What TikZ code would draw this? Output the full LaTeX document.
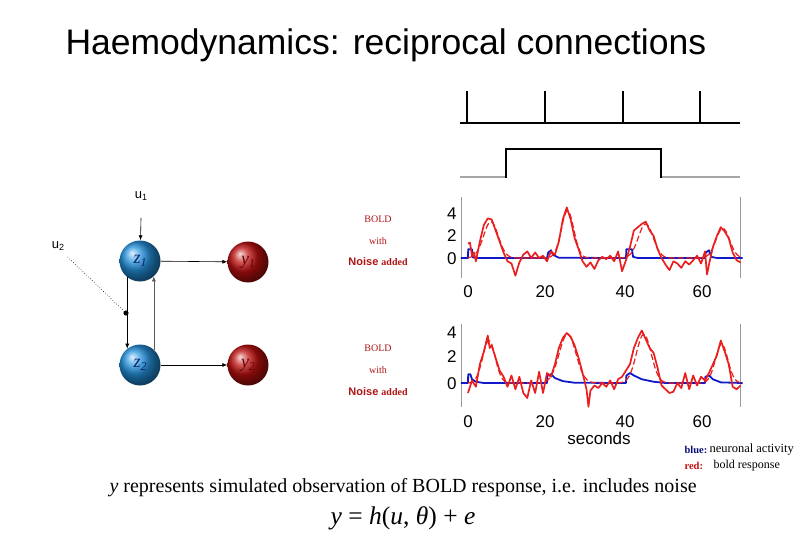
\documentclass[tikz,border=0pt]{standalone}
\usepackage{fontspec}
\setmainfont{Liberation Serif}
\setsansfont{Liberation Sans}
\usetikzlibrary{arrows.meta}
\definecolor{boldred}{RGB}{175,20,20}
\definecolor{zblue}{RGB}{35,145,220}
\definecolor{yred}{RGB}{190,15,15}
\definecolor{ztext}{RGB}{15,35,110}
\definecolor{ytext}{RGB}{95,5,5}
\definecolor{curvered}{RGB}{235,30,30}
\definecolor{curveblue}{RGB}{15,25,200}
\begin{document}
\begin{tikzpicture}[x=1pt,y=-1pt,
  zball/.style={circle,minimum size=41pt,inner sep=0pt,shading=ball,ball color=zblue,text=ztext,font=\fontsize{18}{18}\selectfont\itshape},
  yball/.style={circle,minimum size=41pt,inner sep=0pt,shading=ball,ball color=yred,text=ytext,font=\fontsize{18}{18}\selectfont\itshape},
  conn/.style={-{Latex[length=5pt,width=4pt]},line width=0.6pt},
  tick/.style={font=\sffamily\fontsize{17}{17}\selectfont},
  boldlab/.style={text=boldred,font=\fontsize{10}{10}\selectfont},
  axisline/.style={draw=gray!80,line width=0.6pt},
  redc/.style={draw=curvered,line width=1.7pt,line join=round},
  redd/.style={draw=curvered,line width=1.2pt,dash pattern=on 6pt off 3pt},
  bluec/.style={draw=curveblue,line width=1.8pt,line join=round}]
\useasboundingbox (0,0) rectangle (810,540);

% title
\node[anchor=west,font=\sffamily\fontsize{35.5}{38}\selectfont] (title) at (62,45) {Haemodynamics: reciprocal connections};

% network
\node[zball] (z1) at (140,261) {z\raisebox{-3pt}{\fontsize{12}{12}\selectfont 1}};
\node[zball] (z2) at (140,365) {z\raisebox{-3pt}{\fontsize{12}{12}\selectfont 2}};
\node[yball] (y1) at (248,262) {y\raisebox{-3pt}{\fontsize{12}{12}\selectfont 1}};
\node[yball] (y2) at (248,365) {y\raisebox{-3pt}{\fontsize{12}{12}\selectfont 2}};
\node[font=\sffamily\fontsize{13}{13}\selectfont] (u1) at (141,196) {u\raisebox{-2pt}{\fontsize{9}{9}\selectfont 1}};
\node[font=\sffamily\fontsize{13}{13}\selectfont] (u2) at (58,246) {u\raisebox{-2pt}{\fontsize{9}{9}\selectfont 2}};
\draw[conn] (u1) ++(0,22) coordinate (u1s) (u1s) -- (z1);
\draw[conn] (z1) -- (y1);
\draw[conn] (z2) -- (y2);
\draw[conn] (z1.232) -- (z2.128);
\coordinate (dot) at (126,313);
\fill (dot) circle (2.6pt);
\draw[line width=0.6pt,dotted] (u2.south east) ++(0,3) coordinate (u2s) (u2s) -- (dot);
\draw[conn,draw=gray!70!black] (z2.48) -- (z1.-48);

% BOLD labels
\node[boldlab] (b1) at (378,219) {BOLD};
\node[boldlab] (w1) at (378,241) {with};
\node[text=boldred] (n1) at (378,262) {\sffamily\bfseries\fontsize{11}{11}\selectfont Noise \rmfamily\fontsize{10}{10}\selectfont added};
\node[boldlab] (b2) at (378,348) {BOLD};
\node[boldlab] (w2) at (378,370) {with};
\node[text=boldred] (n2) at (378,392) {\sffamily\bfseries\fontsize{11}{11}\selectfont Noise \rmfamily\fontsize{10}{10}\selectfont added};

% stimulus trains
\draw[line width=1.3pt] (460,123) -- (740,123);
\foreach \xx in {467,545,623,700} \draw[line width=2.6pt] (\xx,124) -- (\xx,91);
\draw[gray!70,line width=1.2pt] (460,177) -- (506,177);
\draw[gray!70,line width=1.2pt] (661,177) -- (740,177);
\draw[line width=2.2pt,line join=miter] (506,178) -- (506,149) -- (661,149) -- (661,178);

% plot 1
\draw[axisline] (461,197) -- (461,278);
\draw[axisline] (740,197) -- (740,278);
\node[tick,anchor=east] (p1a) at (460,214) {4};
\node[tick,anchor=east] (p1b) at (460,236) {2};
\node[tick,anchor=east] (p1c) at (460,259) {0};
\node[tick] (p1d) at (468,292) {0};
\node[tick] (p1e) at (545,292) {20};
\node[tick] (p1f) at (625,292) {40};
\node[tick] (p1g) at (702,292) {60};
\begin{scope}[shift={(468,258)},x=3.95pt,y=11pt]
\draw[bluec] (-1.8,0) -- (0,0) -- (0.05,0.8) -- (1,0.8) -- (1.2,0.05) -- (2.5,0) -- (20,0) -- (20.3,0.5) -- (21,0.7) -- (21.5,0.3) -- (23,0.02) -- (40,0) -- (40.1,0.8) -- (41.5,0.8) -- (41.8,0.1) -- (43,0) -- (60,0) -- (60.2,0.5) -- (61,0.7) -- (61.6,0.1) -- (63,0) -- (69.5,0);
\draw[redd] plot[domain=0:69,samples=150,smooth] (\x,{3.3*exp(-((\x-5.8)^2)/7)+4.3*exp(-((\x-25.2)^2)/5)+3.1*exp(-((\x-45)^2)/7)+2.7*exp(-((\x-64.5)^2)/6)});
\draw[redc] (0,1.3) -- (0.5,1.4) -- (1,0.2) -- (1.5,0.5) -- (2,-0.3) -- (3,1.5) -- (4,3.0) -- (5,3.6) -- (6,3.5) -- (7,2.5) -- (8,1.5) -- (9,0.5) -- (10,-0.3) -- (11,-0.5) -- (12,-1.6) -- (13,-0.4) -- (14,0.3) -- (15,0.6) -- (16,0.0) -- (17,0.5) -- (18,0) -- (19,0.2) -- (20,-0.3) -- (21,0.6) -- (22,0.3) -- (23,1.5) -- (24,3.5) -- (25,4.6) -- (26,3.5) -- (27,1.8) -- (28,0.8) -- (29,-0.3) -- (30,-0.8) -- (31,-0.4) -- (32,-1.0) -- (33,-0.2) -- (34,0.1) -- (35,-0.1) -- (36,0.2) -- (37,-0.3) -- (38,0.6) -- (39,-1.2) -- (40,-0.2) -- (41,1.0) -- (42,2.5) -- (43,2.8) -- (44,3.1) -- (45,3.3) -- (46,2.5) -- (47,2.0) -- (48,0.8) -- (49,0) -- (50,-0.6) -- (51,-1.1) -- (52,-0.3) -- (53,-0.5) -- (54,-0.9) -- (55,-0.3) -- (56,-0.6) -- (57,-0.2) -- (58,0.2) -- (59,-0.5) -- (60,0.6) -- (60.5,-1.5) -- (61,-0.6) -- (62,1.0) -- (63,2.0) -- (64,2.8) -- (65,2.4) -- (66,1.8) -- (67,0.5) -- (68,-0.2) -- (69,-0.4);
\end{scope}

% plot 2
\draw[axisline] (461,324) -- (461,407);
\draw[axisline] (740,324) -- (740,407);
\node[tick,anchor=east] (p2a) at (460,333) {4};
\node[tick,anchor=east] (p2b) at (460,357) {2};
\node[tick,anchor=east] (p2c) at (460,384) {0};
\node[tick] (p2d) at (468,422) {0};
\node[tick] (p2e) at (545,422) {20};
\node[tick] (p2f) at (625,422) {40};
\node[tick] (p2g) at (702,422) {60};
\node[tick] (sec) at (599,438) {seconds};
\begin{scope}[shift={(468,383)},x=3.95pt,y=12.5pt]
\draw[bluec] (-1.8,0) -- (0,0) -- (0.05,0.7) -- (0.6,0.7) -- (1,0.3) -- (2,0.1) -- (4,0) -- (20,0) -- (20.1,0.6) -- (21,0.7) -- (22,0.4) -- (24,0.15) -- (27,0.02) -- (40,0) -- (40.1,0.6) -- (41,0.8) -- (42,0.6) -- (44,0.3) -- (47,0.1) -- (50,0) -- (60,0) -- (60.1,0.5) -- (61,0.6) -- (62,0.3) -- (64,0.05) -- (69.5,0);
\draw[redd] plot[domain=0:69,samples=150,smooth] (\x,{3.4*exp(-((\x-5.3)^2)/5)+3.9*exp(-((\x-25.2)^2)/9)+3.9*exp(-((\x-44.5)^2)/7)+3.1*exp(-((\x-64.2)^2)/5)});
\draw[redc] (0,-0.8) -- (1,0.2) -- (2,-0.3) -- (3,1.5) -- (4,2.5) -- (5,3.8) -- (5.5,2.8) -- (6,3.0) -- (7,2.0) -- (8,1.0) -- (9,0.5) -- (10,-0.3) -- (11,0.6) -- (12,-0.5) -- (13,0.5) -- (14,-0.8) -- (15,-1.2) -- (16,0.2) -- (17,-0.8) -- (18,0.9) -- (19,-0.8) -- (20,0.8) -- (21,0.5) -- (22,1.5) -- (23,2.8) -- (24,3.6) -- (25,4.0) -- (26,3.7) -- (27,3.0) -- (28,2.0) -- (29,0.8) -- (30,-0.5) -- (30.5,-1.9) -- (31,-0.6) -- (32,-0.2) -- (33,-0.4) -- (34,0) -- (35,-0.3) -- (36,0.2) -- (37,-0.5) -- (38,0.3) -- (39,0.5) -- (40,1.0) -- (41,1.5) -- (42,2.8) -- (43,3.6) -- (44,4.2) -- (45,3.5) -- (46,2.8) -- (47,2.4) -- (48,1.2) -- (49,-0.2) -- (50,-0.5) -- (51,-0.8) -- (52,-0.7) -- (53,0) -- (54,-0.4) -- (55,0.8) -- (56,-0.5) -- (57,0.6) -- (58,-0.2) -- (59,0.5) -- (60,0.2) -- (61,0.8) -- (62,1.5) -- (63,2.2) -- (64,3.4) -- (65,2.5) -- (66,1.5) -- (67,-0.3) -- (68,-0.5) -- (69,-0.2);
\end{scope}

% legend
\node[anchor=west,text=curveblue!60!black,font=\bfseries\fontsize{10.5}{10.5}\selectfont] (lb) at (681,450) {blue:};
\node[anchor=west,font=\fontsize{12.5}{12.5}\selectfont] (lbt) at (706,450) {neuronal activity};
\node[anchor=west,text=yred,font=\bfseries\fontsize{10.5}{10.5}\selectfont] (lr) at (681,466) {red:};
\node[anchor=west,font=\fontsize{12}{12}\selectfont] (lrt) at (710,466) {bold response};

% bottom text
\node[anchor=west,font=\fontsize{20}{22}\selectfont] (desc) at (106,488) {\textit{y} represents simulated observation of BOLD response, i.e. includes noise};
\node[font=\fontsize{25.5}{27}\selectfont] (eq) at (403,518) {\textit{y} = \textit{h}(\textit{u}, \textit{θ}) + \textit{e}};
\end{tikzpicture}
\end{document}
